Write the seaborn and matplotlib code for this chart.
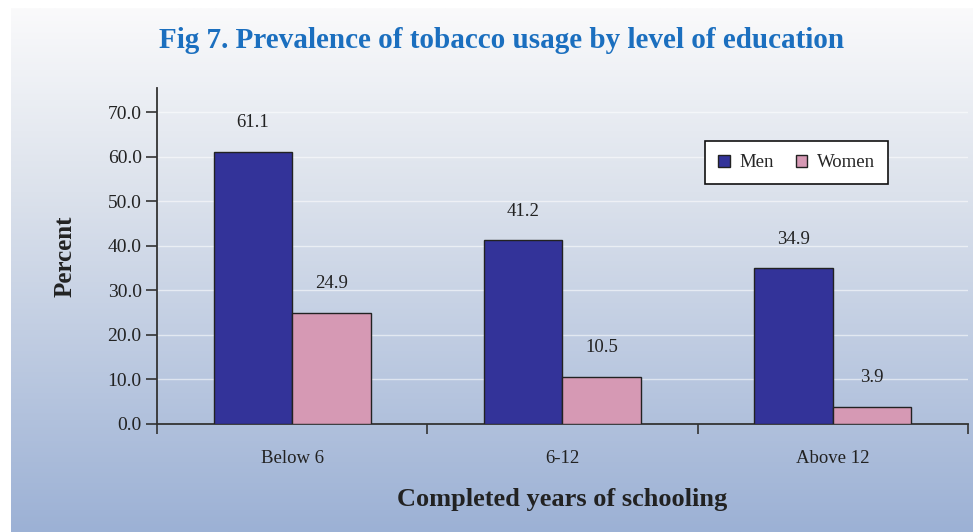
import numpy as np
import pandas as pd
import matplotlib
matplotlib.use("Agg")
import matplotlib.pyplot as plt
import seaborn as sns

# Data
levels = ["Below 6", "6-12", "Above 12"]
men = [61.1, 41.2, 34.9]
women = [24.9, 10.5, 3.9]
groups = ["Men", "Women"]
yticks = [0, 10, 20, 30, 40, 50, 60, 70]

df = pd.DataFrame({
    "level": levels * 2,
    "pct": men + women,
    "sex": ["Men"] * len(levels) + ["Women"] * len(levels),
})

sns.set_theme(style="white")
plt.rcParams["font.family"] = ["Liberation Serif", "DejaVu Serif"]

W, H = 973, 532
fig = plt.figure(figsize=(W / 100, H / 100), dpi=100)
fig.patch.set_facecolor("white")

# Gradient backdrop panel
bg = fig.add_axes([11 / W, 0, 1 - 11 / W, 1 - 8 / H], zorder=-5)
top = np.array([0xfa, 0xfa, 0xfb]) / 255
mid = np.array([0xdc, 0xe2, 0xec]) / 255
bot = np.array([0x9c, 0xb1, 0xd5]) / 255
t = np.linspace(0, 1, 300)[:, None]
grad = np.where(t < 0.35, top + (mid - top) * (t / 0.35),
                mid + (bot - mid) * ((t - 0.35) / 0.65))
bg.imshow(grad[:, None, :].repeat(2, axis=1), aspect="auto", extent=[0, 1, 0, 1],
          interpolation="bilinear")
bg.set_axis_off()

ax = fig.add_axes([157 / W, (H - 424) / H, (968 - 157) / W, (424 - 88) / H])
ax.set_facecolor("none")

sns.barplot(data=df, x="level", y="pct", hue="sex", hue_order=groups,
            palette=["#333399", "#d699b4"], width=0.58, edgecolor="#222222",
            linewidth=1.0, saturation=1, ax=ax, zorder=3)

for c in ax.containers:
    ax.bar_label(c, fmt="%.1f", padding=15, fontsize=13.5, color="#222222")

ax.set_ylim(0, 75.4)
ax.set_xlim(-0.5, 2.5)
ax.set_yticks(yticks)
ax.set_yticklabels([f"{v:.1f}" for v in yticks], fontsize=14, color="#222222")
ax.set_xticks(range(len(levels)))
ax.set_xticklabels(levels, fontsize=13.5, color="#222222")
ax.set_xticks([-0.5, 0.5, 1.5, 2.5], minor=True)
ax.tick_params(axis="x", which="major", bottom=False, length=0, pad=19)
ax.tick_params(axis="x", which="minor", bottom=True, length=7, width=1.2,
               color="#333333", direction="out")
ax.tick_params(axis="y", left=True, length=8, width=1.2, color="#333333",
               direction="out", pad=3)

ax.yaxis.grid(True, color="white", linewidth=1.0, alpha=0.55, zorder=0)
ax.set_axisbelow(True)

for s in ["top", "right"]:
    ax.spines[s].set_visible(False)
for s in ["left", "bottom"]:
    ax.spines[s].set_color("#333333")
    ax.spines[s].set_linewidth(1.3)

ax.set_xlabel("Completed years of schooling", fontsize=19, fontweight="bold",
              color="#222222", labelpad=15)
ax.set_ylabel("Percent", fontsize=18, fontweight="bold", color="#222222", labelpad=22)

handles, labels = ax.get_legend_handles_labels()
leg = ax.legend(handles, labels, loc="upper left", bbox_to_anchor=(0.676, 0.842),
                ncol=2, fontsize=13.5, frameon=True, fancybox=False, framealpha=1,
                edgecolor="#111111", facecolor="white", handlelength=0.6,
                handleheight=0.6, handletextpad=0.5, columnspacing=1.2,
                borderpad=0.7, borderaxespad=0)
leg.get_frame().set_linewidth(1.2)

fig.text(502 / W, 1 - 40 / H, "Fig 7. Prevalence of tobacco usage by level of education",
         ha="center", va="center", fontsize=21, fontweight="bold", color="#1b6fbf")

fig.savefig("out.png", dpi=100)
